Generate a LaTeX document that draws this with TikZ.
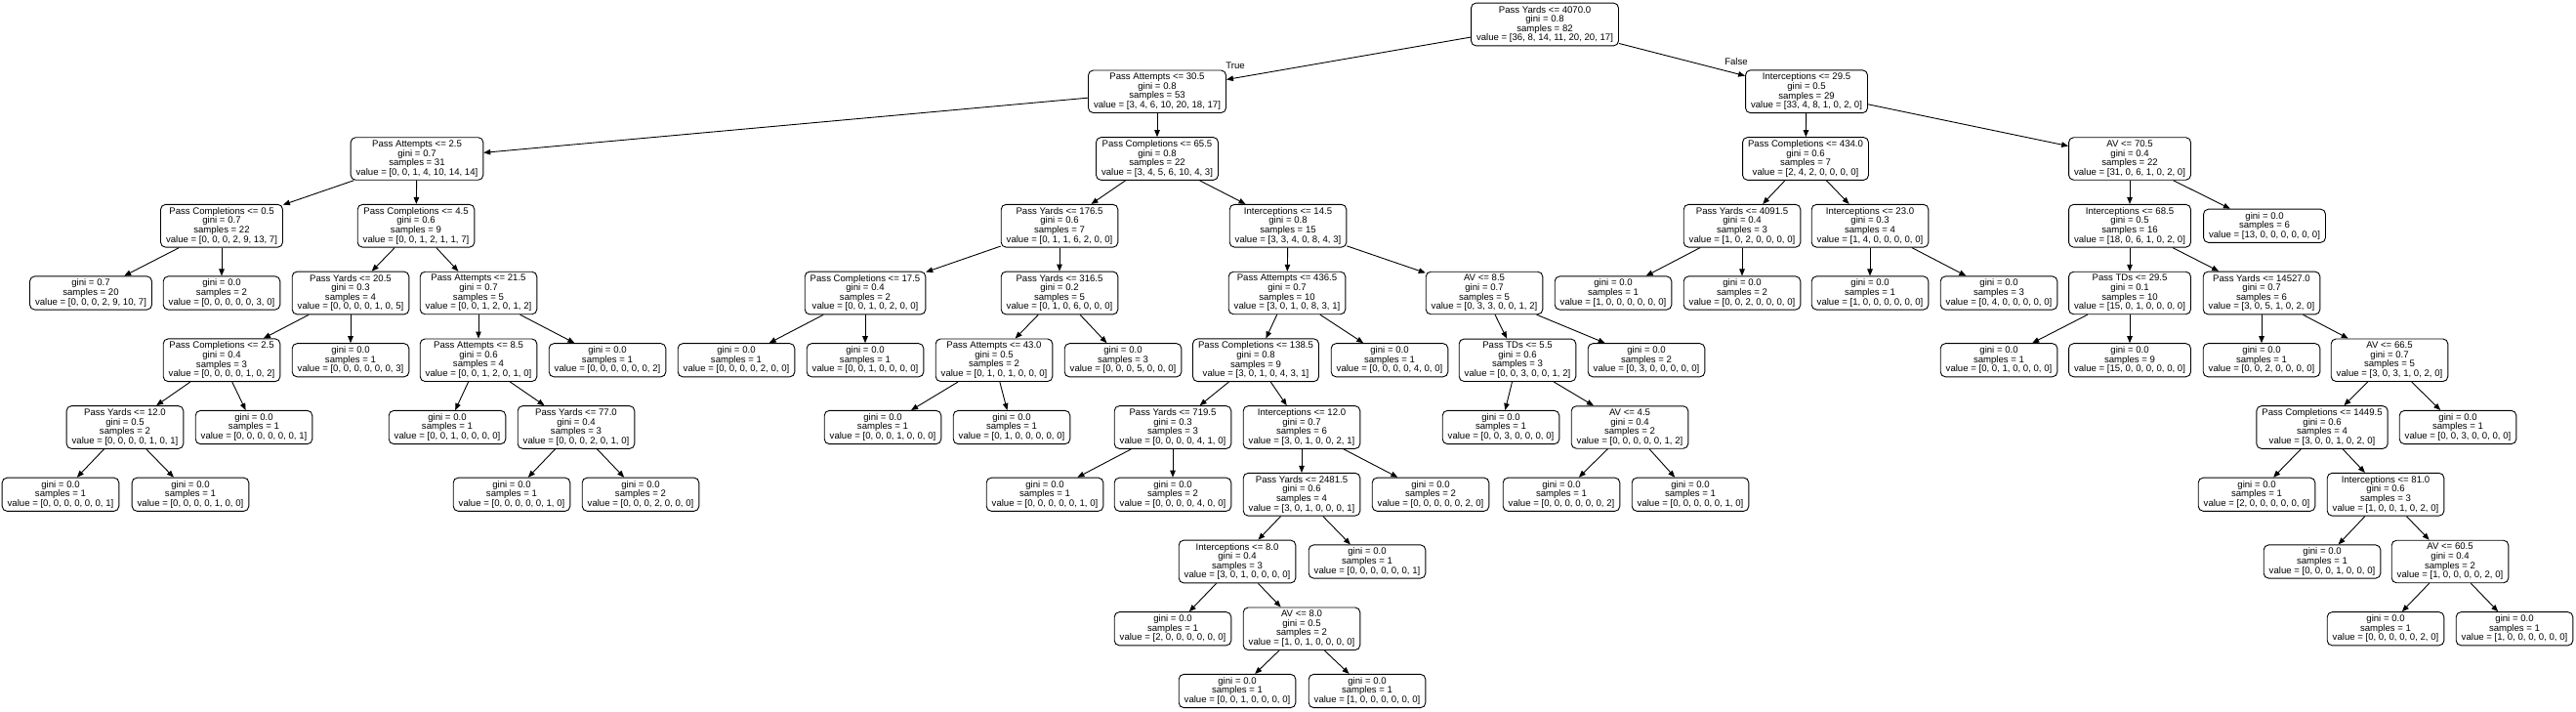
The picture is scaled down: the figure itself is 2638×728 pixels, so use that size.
\documentclass[tikz,border=0pt]{standalone}
\usepackage{fontspec}
\setmainfont{Liberation Sans}
\usetikzlibrary{arrows.meta}
\tikzset{
  tbox/.style={draw=black, line width=0.9pt, rounded corners=5pt, align=center, fill=white,
    font=\fontsize{9.6}{9.6}\selectfont, inner xsep=5.5pt, inner ysep=3pt},
  edge/.style={draw=black, line width=0.9pt, -{Triangle[length=7pt,width=5.5pt]}},
  elabel/.style={font=\fontsize{9.6}{9.6}\selectfont, inner sep=0pt}
}
\begin{document}
\begin{tikzpicture}[x=1pt,y=1pt]
\useasboundingbox[fill=white] (0,0) rectangle (2638,-728);
% Level 0
\node[tbox] (root) at (1582,-25) {Pass Yards <= 4070.0\\gini = 0.8\\samples = 82\\value = [36, 8, 14, 11, 20, 20, 17]};
% Level 1
\node[tbox] (n1) at (1185,-93.75) {Pass Attempts <= 30.5\\gini = 0.8\\samples = 53\\value = [3, 4, 6, 10, 20, 18, 17]};
\node[tbox] (n2) at (1850,-93.75) {Interceptions <= 29.5\\gini = 0.5\\samples = 29\\value = [33, 4, 8, 1, 0, 2, 0]};
% Level 2
\node[tbox] (n3) at (427,-162.5) {Pass Attempts <= 2.5\\gini = 0.7\\samples = 31\\value = [0, 0, 1, 4, 10, 14, 14]};
\node[tbox] (n4) at (1185,-162.5) {Pass Completions <= 65.5\\gini = 0.8\\samples = 22\\value = [3, 4, 5, 6, 10, 4, 3]};
\node[tbox] (n5) at (1849,-162.5) {Pass Completions <= 434.0\\gini = 0.6\\samples = 7\\value = [2, 4, 2, 0, 0, 0, 0]};
\node[tbox] (n6) at (2181,-162.5) {AV <= 70.5\\gini = 0.4\\samples = 22\\value = [31, 0, 6, 1, 0, 2, 0]};
% Level 3
\node[tbox] (n7) at (227,-231.25) {Pass Completions <= 0.5\\gini = 0.7\\samples = 22\\value = [0, 0, 0, 2, 9, 13, 7]};
\node[tbox] (n8) at (426,-231.25) {Pass Completions <= 4.5\\gini = 0.6\\samples = 9\\value = [0, 0, 1, 2, 1, 1, 7]};
\node[tbox] (n9) at (1085,-231.25) {Pass Yards <= 176.5\\gini = 0.6\\samples = 7\\value = [0, 1, 1, 6, 2, 0, 0]};
\node[tbox] (n10) at (1319,-231.25) {Interceptions <= 14.5\\gini = 0.8\\samples = 15\\value = [3, 3, 4, 0, 8, 4, 3]};
\node[tbox] (n11) at (1784,-231.25) {Pass Yards <= 4091.5\\gini = 0.4\\samples = 3\\value = [1, 0, 2, 0, 0, 0, 0]};
\node[tbox] (n12) at (1915,-231.25) {Interceptions <= 23.0\\gini = 0.3\\samples = 4\\value = [1, 4, 0, 0, 0, 0, 0]};
\node[tbox] (n13) at (2181,-231.25) {Interceptions <= 68.5\\gini = 0.5\\samples = 16\\value = [18, 0, 6, 1, 0, 2, 0]};
\node[tbox] (n14) at (2319,-231.25) {gini = 0.0\\samples = 6\\value = [13, 0, 0, 0, 0, 0, 0]};
% Level 4
\node[tbox] (n15) at (93,-300) {gini = 0.7\\samples = 20\\value = [0, 0, 0, 2, 9, 10, 7]};
\node[tbox] (n16) at (227,-300) {gini = 0.0\\samples = 2\\value = [0, 0, 0, 0, 0, 3, 0]};
\node[tbox] (n17) at (359,-300) {Pass Yards <= 20.5\\gini = 0.3\\samples = 4\\value = [0, 0, 0, 0, 1, 0, 5]};
\node[tbox] (n18) at (490,-300) {Pass Attempts <= 21.5\\gini = 0.7\\samples = 5\\value = [0, 0, 1, 2, 0, 1, 2]};
\node[tbox] (n19) at (886,-300) {Pass Completions <= 17.5\\gini = 0.4\\samples = 2\\value = [0, 0, 1, 0, 2, 0, 0]};
\node[tbox] (n20) at (1085,-300) {Pass Yards <= 316.5\\gini = 0.2\\samples = 5\\value = [0, 1, 0, 6, 0, 0, 0]};
\node[tbox] (n21) at (1318,-300) {Pass Attempts <= 436.5\\gini = 0.7\\samples = 10\\value = [3, 0, 1, 0, 8, 3, 1]};
\node[tbox] (n22) at (1520,-300) {AV <= 8.5\\gini = 0.7\\samples = 5\\value = [0, 3, 3, 0, 0, 1, 2]};
\node[tbox] (n23) at (1652,-300) {gini = 0.0\\samples = 1\\value = [1, 0, 0, 0, 0, 0, 0]};
\node[tbox] (n24) at (1784,-300) {gini = 0.0\\samples = 2\\value = [0, 0, 2, 0, 0, 0, 0]};
\node[tbox] (n25) at (1915,-300) {gini = 0.0\\samples = 1\\value = [1, 0, 0, 0, 0, 0, 0]};
\node[tbox] (n26) at (2047,-300) {gini = 0.0\\samples = 3\\value = [0, 4, 0, 0, 0, 0, 0]};
\node[tbox] (n27) at (2181,-300) {Pass TDs <= 29.5\\gini = 0.1\\samples = 10\\value = [15, 0, 1, 0, 0, 0, 0]};
\node[tbox] (n28) at (2316,-300) {Pass Yards <= 14527.0\\gini = 0.7\\samples = 6\\value = [3, 0, 5, 1, 0, 2, 0]};
% Level 5
\node[tbox] (n29) at (227,-368.75) {Pass Completions <= 2.5\\gini = 0.4\\samples = 3\\value = [0, 0, 0, 0, 1, 0, 2]};
\node[tbox] (n30) at (359,-368.75) {gini = 0.0\\samples = 1\\value = [0, 0, 0, 0, 0, 0, 3]};
\node[tbox] (n31) at (490,-368.75) {Pass Attempts <= 8.5\\gini = 0.6\\samples = 4\\value = [0, 0, 1, 2, 0, 1, 0]};
\node[tbox] (n32) at (622,-368.75) {gini = 0.0\\samples = 1\\value = [0, 0, 0, 0, 0, 0, 2]};
\node[tbox] (n33) at (754,-368.75) {gini = 0.0\\samples = 1\\value = [0, 0, 0, 0, 2, 0, 0]};
\node[tbox] (n34) at (886,-368.75) {gini = 0.0\\samples = 1\\value = [0, 0, 1, 0, 0, 0, 0]};
\node[tbox] (n35) at (1018,-368.75) {Pass Attempts <= 43.0\\gini = 0.5\\samples = 2\\value = [0, 1, 0, 1, 0, 0, 0]};
\node[tbox] (n36) at (1150,-368.75) {gini = 0.0\\samples = 3\\value = [0, 0, 0, 5, 0, 0, 0]};
\node[tbox] (n37) at (1286,-368.75) {Pass Completions <= 138.5\\gini = 0.8\\samples = 9\\value = [3, 0, 1, 0, 4, 3, 1]};
\node[tbox] (n38) at (1423,-368.75) {gini = 0.0\\samples = 1\\value = [0, 0, 0, 0, 4, 0, 0]};
\node[tbox] (n39) at (1554,-368.75) {Pass TDs <= 5.5\\gini = 0.6\\samples = 3\\value = [0, 0, 3, 0, 0, 1, 2]};
\node[tbox] (n40) at (1686,-368.75) {gini = 0.0\\samples = 2\\value = [0, 3, 0, 0, 0, 0, 0]};
\node[tbox] (n41) at (2047,-368.75) {gini = 0.0\\samples = 1\\value = [0, 0, 1, 0, 0, 0, 0]};
\node[tbox] (n42) at (2181,-368.75) {gini = 0.0\\samples = 9\\value = [15, 0, 0, 0, 0, 0, 0]};
\node[tbox] (n43) at (2316,-368.75) {gini = 0.0\\samples = 1\\value = [0, 0, 2, 0, 0, 0, 0]};
\node[tbox] (n44) at (2447,-368.75) {AV <= 66.5\\gini = 0.7\\samples = 5\\value = [3, 0, 3, 1, 0, 2, 0]};
% Level 6
\node[tbox] (n45) at (128,-437.5) {Pass Yards <= 12.0\\gini = 0.5\\samples = 2\\value = [0, 0, 0, 0, 1, 0, 1]};
\node[tbox] (n46) at (260,-437.5) {gini = 0.0\\samples = 1\\value = [0, 0, 0, 0, 0, 0, 1]};
\node[tbox] (n47) at (458,-437.5) {gini = 0.0\\samples = 1\\value = [0, 0, 1, 0, 0, 0, 0]};
\node[tbox] (n48) at (590,-437.5) {Pass Yards <= 77.0\\gini = 0.4\\samples = 3\\value = [0, 0, 0, 2, 0, 1, 0]};
\node[tbox] (n49) at (904,-437.5) {gini = 0.0\\samples = 1\\value = [0, 0, 0, 1, 0, 0, 0]};
\node[tbox] (n50) at (1036,-437.5) {gini = 0.0\\samples = 1\\value = [0, 1, 0, 0, 0, 0, 0]};
\node[tbox] (n51) at (1201,-437.5) {Pass Yards <= 719.5\\gini = 0.3\\samples = 3\\value = [0, 0, 0, 0, 4, 1, 0]};
\node[tbox] (n52) at (1333,-437.5) {Interceptions <= 12.0\\gini = 0.7\\samples = 6\\value = [3, 0, 1, 0, 0, 2, 1]};
\node[tbox] (n53) at (1537,-437.5) {gini = 0.0\\samples = 1\\value = [0, 0, 3, 0, 0, 0, 0]};
\node[tbox] (n54) at (1669,-437.5) {AV <= 4.5\\gini = 0.4\\samples = 2\\value = [0, 0, 0, 0, 0, 1, 2]};
\node[tbox] (n55) at (2378,-437.5) {Pass Completions <= 1449.5\\gini = 0.6\\samples = 4\\value = [3, 0, 0, 1, 0, 2, 0]};
\node[tbox] (n56) at (2517,-437.5) {gini = 0.0\\samples = 1\\value = [0, 0, 3, 0, 0, 0, 0]};
% Level 7
\node[tbox] (n57) at (62,-506.25) {gini = 0.0\\samples = 1\\value = [0, 0, 0, 0, 0, 0, 1]};
\node[tbox] (n58) at (195,-506.25) {gini = 0.0\\samples = 1\\value = [0, 0, 0, 0, 1, 0, 0]};
\node[tbox] (n59) at (524,-506.25) {gini = 0.0\\samples = 1\\value = [0, 0, 0, 0, 0, 1, 0]};
\node[tbox] (n60) at (656,-506.25) {gini = 0.0\\samples = 2\\value = [0, 0, 0, 2, 0, 0, 0]};
\node[tbox] (n61) at (1070,-506.25) {gini = 0.0\\samples = 1\\value = [0, 0, 0, 0, 0, 1, 0]};
\node[tbox] (n62) at (1201,-506.25) {gini = 0.0\\samples = 2\\value = [0, 0, 0, 0, 4, 0, 0]};
\node[tbox] (n63) at (1333,-506.25) {Pass Yards <= 2481.5\\gini = 0.6\\samples = 4\\value = [3, 0, 1, 0, 0, 0, 1]};
\node[tbox] (n64) at (1465,-506.25) {gini = 0.0\\samples = 2\\value = [0, 0, 0, 0, 0, 2, 0]};
\node[tbox] (n65) at (1599,-506.25) {gini = 0.0\\samples = 1\\value = [0, 0, 0, 0, 0, 0, 2]};
\node[tbox] (n66) at (1731,-506.25) {gini = 0.0\\samples = 1\\value = [0, 0, 0, 0, 0, 1, 0]};
\node[tbox] (n67) at (2311,-506.25) {gini = 0.0\\samples = 1\\value = [2, 0, 0, 0, 0, 0, 0]};
\node[tbox] (n68) at (2443,-506.25) {Interceptions <= 81.0\\gini = 0.6\\samples = 3\\value = [1, 0, 0, 1, 0, 2, 0]};
% Level 8
\node[tbox] (n69) at (1267,-575) {Interceptions <= 8.0\\gini = 0.4\\samples = 3\\value = [3, 0, 1, 0, 0, 0, 0]};
\node[tbox] (n70) at (1400,-575) {gini = 0.0\\samples = 1\\value = [0, 0, 0, 0, 0, 0, 1]};
\node[tbox] (n71) at (2378,-575) {gini = 0.0\\samples = 1\\value = [0, 0, 0, 1, 0, 0, 0]};
\node[tbox] (n72) at (2509,-575) {AV <= 60.5\\gini = 0.4\\samples = 2\\value = [1, 0, 0, 0, 0, 2, 0]};
% Level 9
\node[tbox] (n73) at (1201,-643.75) {gini = 0.0\\samples = 1\\value = [2, 0, 0, 0, 0, 0, 0]};
\node[tbox] (n74) at (1333,-643.75) {AV <= 8.0\\gini = 0.5\\samples = 2\\value = [1, 0, 1, 0, 0, 0, 0]};
\node[tbox] (n75) at (2443,-643.75) {gini = 0.0\\samples = 1\\value = [0, 0, 0, 0, 0, 2, 0]};
\node[tbox] (n76) at (2575,-643.75) {gini = 0.0\\samples = 1\\value = [1, 0, 0, 0, 0, 0, 0]};
% Level 10
\node[tbox] (n77) at (1267,-707.5) {gini = 0.0\\samples = 1\\value = [0, 0, 1, 0, 0, 0, 0]};
\node[tbox] (n78) at (1400,-707.5) {gini = 0.0\\samples = 1\\value = [1, 0, 0, 0, 0, 0, 0]};
% Edges
\foreach \p/\c in {root/n1, root/n2, n1/n3, n1/n4, n2/n5, n2/n6,
  n3/n7, n3/n8, n4/n9, n4/n10, n5/n11, n5/n12, n6/n13, n6/n14,
  n7/n15, n7/n16, n8/n17, n8/n18, n9/n19, n9/n20, n10/n21, n10/n22,
  n11/n23, n11/n24, n12/n25, n12/n26, n13/n27, n13/n28,
  n17/n29, n17/n30, n18/n31, n18/n32, n19/n33, n19/n34, n20/n35, n20/n36,
  n21/n37, n21/n38, n22/n39, n22/n40, n27/n41, n27/n42, n28/n43, n28/n44,
  n29/n45, n29/n46, n31/n47, n31/n48, n35/n49, n35/n50, n37/n51, n37/n52,
  n39/n53, n39/n54, n44/n55, n44/n56,
  n45/n57, n45/n58, n48/n59, n48/n60, n51/n61, n51/n62, n52/n63, n52/n64,
  n54/n65, n54/n66, n55/n67, n55/n68,
  n63/n69, n63/n70, n68/n71, n68/n72,
  n69/n73, n69/n74, n72/n75, n72/n76,
  n74/n77, n74/n78}
  {\draw[edge] (\p) -- (\c);}
% Edge labels
\node[elabel] (lblTrue) at (1265,-67.7) {True};
\node[elabel] (lblFalse) at (1778,-62.7) {False};
\end{tikzpicture}
\end{document}
